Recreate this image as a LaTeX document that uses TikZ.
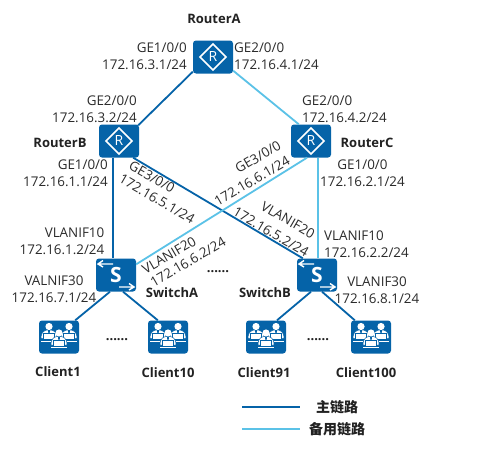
\documentclass[tikz,border=0pt]{standalone}
\usepackage{fontspec}
\setmainfont{Open Sans}
\newfontfamily\cjkfont{Noto Sans CJK SC}
\definecolor{mainblue}{HTML}{0563A8}
\definecolor{backupblue}{HTML}{5BC2E7}
\definecolor{labeltext}{HTML}{2B2B2B}
\definecolor{boldtext}{HTML}{222222}
\tikzset{
  netbox/.style={fill=mainblue,rounded corners=3pt,minimum width=40pt,minimum height=33pt,inner sep=0pt,text=white},
  routerbox/.style={netbox,font=\fontsize{14}{14}\selectfont},
  switchbox/.style={netbox,font=\fontsize{21}{21}\selectfont\bfseries},
  mainlink/.style={draw=mainblue,line width=1.8pt},
  backuplink/.style={draw=backupblue,line width=1.8pt},
  lbl/.style={text=labeltext,font=\fontsize{13.4}{17}\selectfont,inner sep=0pt},
  devname/.style={text=boldtext,font=\fontsize{13}{15}\selectfont\bfseries,inner sep=0pt},
  legendtext/.style={text=boldtext,font=\cjkfont\fontsize{14}{16}\selectfont\bfseries,inner sep=0pt},
  moredots/.style={text=boldtext,font=\fontsize{13}{13}\selectfont\bfseries,inner sep=0pt},
  person/.pic={
    \fill[white,draw=mainblue,line width=.5pt] (-8,12) .. controls (-8,5) and (-4.5,3.4) .. (0,3.4) .. controls (4.5,3.4) and (8,5) .. (8,12) -- cycle;
    \fill[white] (0,0) circle (3.6);
    \fill[mainblue] (-.9,3.6) -- (.9,3.6) -- (.6,8) -- (-.6,8) -- cycle;
    \fill[white,draw=mainblue,line width=.6pt] (-5.5,7) rectangle (5.5,13);
    \fill[white] (-8,14) rectangle (8,14.8);
  },
  routerglyph/.pic={
    \draw[white,line width=1.7pt,line join=miter] (-13,0) -- (0,-13) -- (13,0) -- (0,13) -- cycle;
  },
  switchglyph/.pic={
    \draw[white,line width=1.4pt] (-3,-11) -- (-18,-11) (-13,-14.5) -- (-18,-11) -- (-13,-8);
    \draw[white,line width=1.4pt] (3,12) -- (18,12) (13,8.5) -- (18,12) -- (13,15);
  },
  clientglyph/.pic={
    \path (-10,-10.5) pic {person};
    \path (10,-10.5) pic {person};
    \path (0,-4) pic {person};
  }
}
\begin{document}
\begin{tikzpicture}[x=1pt,y=-1pt]
\path[use as bounding box,fill=white] (0,0) rectangle (489,455);
% links
\node[routerbox] (RA) at (213,57) {R};
\node[routerbox] (RB) at (119,141) {R};
\node[routerbox] (RC) at (311,141) {R};
\node[switchbox] (SA) at (116,275) {S};
\node[switchbox] (SB) at (317,275) {S};
\node[netbox] (C1) at (59,337) {};
\node[netbox] (C10) at (168,337) {};
\node[netbox] (C91) at (266,337) {};
\node[netbox] (C100) at (371,337) {};
\path (RA) pic {routerglyph} (RB) pic {routerglyph} (RC) pic {routerglyph};
\path (SA) pic {switchglyph} (SB) pic {switchglyph};
\path (C1) pic {clientglyph} (C10) pic {clientglyph} (C91) pic {clientglyph} (C100) pic {clientglyph};
\draw[mainlink] ([shift={(0,-2)}]RA.south west) -- ([shift={(-1,1)}]RB.north east);
\draw[backuplink] ([shift={(0,-3)}]RA.south east) -- ([xshift=8pt]RC.north west);
\draw[mainlink] ([xshift=-6.3pt]RB.south) -- ([xshift=-3.3pt]SA.north);
\draw[mainlink] ([xshift=-6pt]RB.south east) -- ([xshift=6pt]SB.north west);
\draw[backuplink] ([xshift=-4pt]RC.south) -- ([yshift=-6pt]SA.north east);
\draw[backuplink] ([xshift=7pt]RC.south) -- ([xshift=1pt]SB.north);
\draw[mainlink] ([xshift=-6pt]SA.south) -- ([xshift=-4pt]C1.north east);
\draw[mainlink] ([xshift=7pt]SA.south) -- ([xshift=10pt]C10.north west);
\draw[mainlink] ([xshift=-6pt]SB.south) -- ([xshift=11pt]C91.north);
\draw[mainlink] ([xshift=5pt]SB.south) -- ([xshift=4pt]C100.north west);
% names
\node[devname] (nRA) at (214,19) {RouterA};
\node[devname] (nRB) at (60,143) {RouterB};
\node[devname] (nRC) at (367,143) {RouterC};
\node[devname] (nSA) at (172,293) {SwitchA};
\node[devname] (nSB) at (265,293) {SwitchB};
\node[devname] (nC1) at (58,372) {Client1};
\node[devname] (nC10) at (168,373) {Client10};
\node[devname] (nC91) at (264,373) {Client91};
\node[devname] (nC100) at (366,373) {Client100};
% interface labels
\node[lbl,align=right,anchor=east] (l1) at (187,56.5) {GE1/0/0\\172.16.3.1/24};
\node[lbl,align=left,anchor=west] (l2) at (234,56.5) {GE2/0/0\\172.16.4.1/24};
\node[lbl,align=right,anchor=east] (l3) at (137,109.5) {GE2/0/0\\172.16.3.2/24};
\node[lbl,align=left,anchor=west] (l4) at (302,109.5) {GE2/0/0\\172.16.4.2/24};
\node[lbl,align=right,anchor=east] (l5) at (108,173.5) {GE1/0/0\\172.16.1.1/24};
\node[lbl,align=center] (l6) at (362.5,173.5) {GE1/0/0\\172.16.2.1/24};
\node[lbl,align=right,anchor=east] (l7) at (104.5,241.5) {VLANIF10\\172.16.1.2/24};
\node[lbl,align=left,anchor=west] (l8) at (324,244.5) {VLANIF10\\172.16.2.2/24};
\node[lbl,align=center] (l9) at (54,289.5) {VALNIF30\\172.16.7.1/24};
\node[lbl,align=center] (l10) at (377,290) {VLANIF30\\172.16.8.1/24};
\node[lbl,rotate=-30] (l11) at (152,177) {GE3/0/0};
\node[lbl,rotate=-30] (l12) at (157,199) {172.16.5.1/24};
\node[lbl,rotate=-30] (l13) at (288,220) {VLANIF20};
\node[lbl,rotate=-30] (l14) at (271,232) {172.16.5.2/24};
\node[lbl,rotate=30] (l15) at (258,157) {GE3/0/0};
\node[lbl,rotate=30] (l16) at (252,181) {172.16.6.1/24};
\node[lbl,rotate=30] (l17) at (169,255) {VLANIF20};
\node[lbl,rotate=30] (l18) at (188,262) {172.16.6.2/24};
% ellipses
\node[moredots] (d1) at (117,340) {......};
\node[moredots] (d2) at (318,340) {......};
\node[moredots] (d3) at (218,272) {......};
% legend
\coordinate (lg1a) at (242,407);
\coordinate (lg1b) at (300,407);
\coordinate (lg2a) at (242,429);
\coordinate (lg2b) at (300,429);
\draw[mainlink] (lg1a) -- (lg1b);
\draw[backuplink] (lg2a) -- (lg2b);
\node[legendtext] (t1) at (337,407) {主链路};
\node[legendtext] (t2) at (337,429) {备用链路};
\end{tikzpicture}
\end{document}
